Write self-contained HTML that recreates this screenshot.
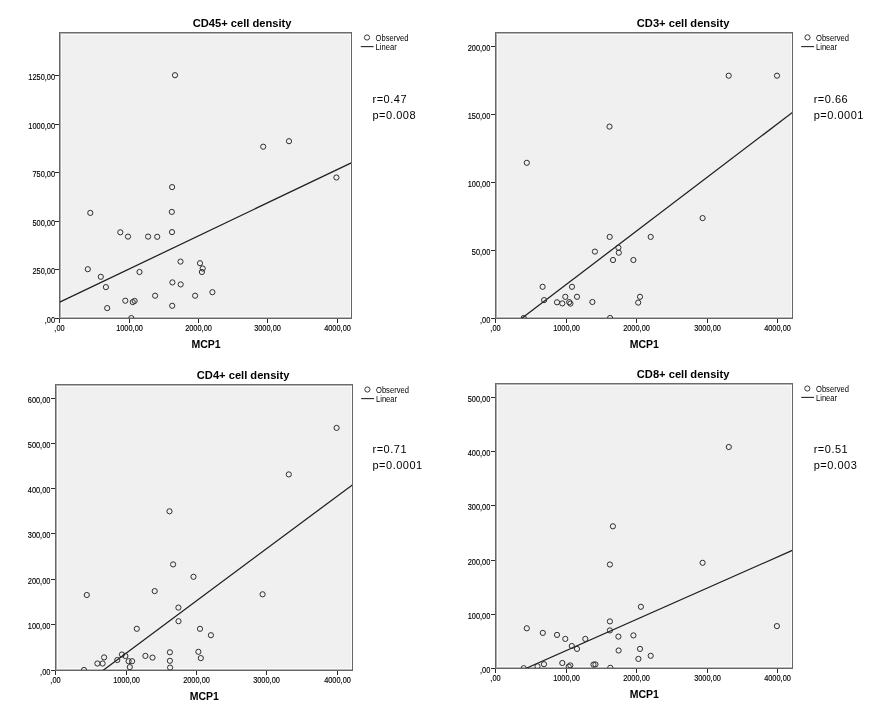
<!DOCTYPE html><html><head><meta charset="utf-8"><title>Scatter plots</title><style>html,body{margin:0;padding:0;background:#fff;width:884px;height:720px;overflow:hidden}svg{display:block;will-change:transform}text{font-family:"Liberation Sans",sans-serif;fill:#000}.tk{font-size:8.4px;stroke:#000;stroke-width:0.15px}.lg{font-size:8.2px}.ti{font-size:11.15px;font-weight:bold}.ax{font-size:10.5px;font-weight:bold}.rp{font-size:11px;letter-spacing:0.5px}</style></head><body>
<svg width="884" height="720" viewBox="0 0 884 720">
<rect x="0" y="0" width="884" height="720" fill="#fff"/>
<defs><clipPath id="cp0"><rect x="60" y="33" width="291" height="285"/></clipPath><clipPath id="cp1"><rect x="496" y="33" width="296" height="285"/></clipPath><clipPath id="cp2"><rect x="56" y="385" width="296" height="285"/></clipPath><clipPath id="cp3"><rect x="496" y="384" width="296" height="284"/></clipPath></defs>
<rect x="59" y="32" width="293" height="287" fill="#f0f0f0"/><rect x="61" y="34" width="289" height="1" fill="#fbfbfb"/><rect x="61" y="316" width="289" height="1" fill="#fbfbfb"/><rect x="61" y="34" width="1" height="283" fill="#fbfbfb"/><rect x="350" y="34" width="1" height="283" fill="#fbfbfb"/><rect x="60" y="33" width="291" height="1" fill="#b4b4b4"/><rect x="60" y="317" width="291" height="1" fill="#b4b4b4"/><rect x="60" y="33" width="1" height="285" fill="#ababab"/>
<g clip-path="url(#cp0)"><line x1="59.5" y1="302.3" x2="351.5" y2="162.7" stroke="#1e1e1e" stroke-width="1.25"/><circle cx="175" cy="75.2" r="2.6" fill="none" stroke="#2e2e2e" stroke-width="1"/><circle cx="263.2" cy="146.7" r="2.6" fill="none" stroke="#2e2e2e" stroke-width="1"/><circle cx="289" cy="141.2" r="2.6" fill="none" stroke="#2e2e2e" stroke-width="1"/><circle cx="336.4" cy="177.5" r="2.6" fill="none" stroke="#2e2e2e" stroke-width="1"/><circle cx="172.1" cy="187.1" r="2.6" fill="none" stroke="#2e2e2e" stroke-width="1"/><circle cx="90.3" cy="212.9" r="2.6" fill="none" stroke="#2e2e2e" stroke-width="1"/><circle cx="171.8" cy="211.9" r="2.6" fill="none" stroke="#2e2e2e" stroke-width="1"/><circle cx="120.3" cy="232.3" r="2.6" fill="none" stroke="#2e2e2e" stroke-width="1"/><circle cx="128" cy="236.6" r="2.6" fill="none" stroke="#2e2e2e" stroke-width="1"/><circle cx="148.1" cy="236.6" r="2.6" fill="none" stroke="#2e2e2e" stroke-width="1"/><circle cx="157.2" cy="236.8" r="2.6" fill="none" stroke="#2e2e2e" stroke-width="1"/><circle cx="172" cy="232.1" r="2.6" fill="none" stroke="#2e2e2e" stroke-width="1"/><circle cx="180.5" cy="261.6" r="2.6" fill="none" stroke="#2e2e2e" stroke-width="1"/><circle cx="200" cy="263.2" r="2.6" fill="none" stroke="#2e2e2e" stroke-width="1"/><circle cx="202.7" cy="268.5" r="2.6" fill="none" stroke="#2e2e2e" stroke-width="1"/><circle cx="201.9" cy="272" r="2.6" fill="none" stroke="#2e2e2e" stroke-width="1"/><circle cx="87.8" cy="269.2" r="2.6" fill="none" stroke="#2e2e2e" stroke-width="1"/><circle cx="139.5" cy="272" r="2.6" fill="none" stroke="#2e2e2e" stroke-width="1"/><circle cx="100.8" cy="276.8" r="2.6" fill="none" stroke="#2e2e2e" stroke-width="1"/><circle cx="105.9" cy="287.1" r="2.6" fill="none" stroke="#2e2e2e" stroke-width="1"/><circle cx="172.4" cy="282.4" r="2.6" fill="none" stroke="#2e2e2e" stroke-width="1"/><circle cx="180.7" cy="284.4" r="2.6" fill="none" stroke="#2e2e2e" stroke-width="1"/><circle cx="155.1" cy="295.7" r="2.6" fill="none" stroke="#2e2e2e" stroke-width="1"/><circle cx="195.1" cy="295.7" r="2.6" fill="none" stroke="#2e2e2e" stroke-width="1"/><circle cx="212.4" cy="292.2" r="2.6" fill="none" stroke="#2e2e2e" stroke-width="1"/><circle cx="125.3" cy="300.7" r="2.6" fill="none" stroke="#2e2e2e" stroke-width="1"/><circle cx="132.7" cy="302.1" r="2.6" fill="none" stroke="#2e2e2e" stroke-width="1"/><circle cx="134.6" cy="300.9" r="2.6" fill="none" stroke="#2e2e2e" stroke-width="1"/><circle cx="172.2" cy="305.8" r="2.6" fill="none" stroke="#2e2e2e" stroke-width="1"/><circle cx="107.2" cy="308.1" r="2.6" fill="none" stroke="#2e2e2e" stroke-width="1"/><circle cx="131.3" cy="318.1" r="2.6" fill="none" stroke="#2e2e2e" stroke-width="1"/></g>
<rect x="59" y="32" width="293" height="1" fill="#6c6c6c"/><rect x="59" y="318" width="293" height="1" fill="#666"/><rect x="59" y="32" width="1" height="287" fill="#666"/><rect x="351" y="32" width="1" height="287" fill="#666"/><rect x="59" y="319" width="1" height="4" fill="#2a2a2a"/><rect x="129" y="319" width="1" height="4" fill="#2a2a2a"/><rect x="198" y="319" width="1" height="4" fill="#2a2a2a"/><rect x="267" y="319" width="1" height="4" fill="#2a2a2a"/><rect x="337" y="319" width="1" height="4" fill="#2a2a2a"/><rect x="55" y="318" width="4" height="1" fill="#2a2a2a"/><rect x="55" y="269" width="4" height="1" fill="#2a2a2a"/><rect x="55" y="221" width="4" height="1" fill="#2a2a2a"/><rect x="55" y="172" width="4" height="1" fill="#2a2a2a"/><rect x="55" y="124" width="4" height="1" fill="#2a2a2a"/><rect x="55" y="75" width="4" height="1" fill="#2a2a2a"/>
<text class="tk" transform="translate(59.5 331) scale(0.881 1)" text-anchor="middle">,00</text><text class="tk" transform="translate(129.5 331) scale(0.881 1)" text-anchor="middle">1000,00</text><text class="tk" transform="translate(198.5 331) scale(0.881 1)" text-anchor="middle">2000,00</text><text class="tk" transform="translate(267.5 331) scale(0.881 1)" text-anchor="middle">3000,00</text><text class="tk" transform="translate(337.5 331) scale(0.881 1)" text-anchor="middle">4000,00</text><text class="tk" transform="translate(55.1 323) scale(0.881 1)" text-anchor="end">,00</text><text class="tk" transform="translate(55.1 274) scale(0.881 1)" text-anchor="end">250,00</text><text class="tk" transform="translate(55.1 226) scale(0.881 1)" text-anchor="end">500,00</text><text class="tk" transform="translate(55.1 177) scale(0.881 1)" text-anchor="end">750,00</text><text class="tk" transform="translate(55.1 129) scale(0.881 1)" text-anchor="end">1000,00</text><text class="tk" transform="translate(55.1 80) scale(0.881 1)" text-anchor="end">1250,00</text><text class="ti" x="242.1" y="27.4" text-anchor="middle">CD45+ cell density</text><text class="ax" x="206.0" y="347.6" text-anchor="middle">MCP1</text><circle cx="367.0" cy="37.5" r="2.6" fill="none" stroke="#3a3a3a" stroke-width="1"/><text class="lg" transform="translate(375.6 41) scale(0.927 1)">Observed</text><line x1="360.8" y1="46.6" x2="373.6" y2="46.6" stroke="#262626" stroke-width="1.1"/><text class="lg" transform="translate(375.6 50) scale(0.927 1)">Linear</text><text class="rp" x="372.5" y="102.8">r=0.47</text><text class="rp" x="372.5" y="119.0">p=0.008</text>
<rect x="495" y="32" width="298" height="287" fill="#f0f0f0"/><rect x="497" y="34" width="294" height="1" fill="#fbfbfb"/><rect x="497" y="316" width="294" height="1" fill="#fbfbfb"/><rect x="497" y="34" width="1" height="283" fill="#fbfbfb"/><rect x="791" y="34" width="1" height="283" fill="#fbfbfb"/><rect x="496" y="33" width="296" height="1" fill="#b4b4b4"/><rect x="496" y="317" width="296" height="1" fill="#b4b4b4"/><rect x="496" y="33" width="1" height="285" fill="#ababab"/>
<g clip-path="url(#cp1)"><line x1="521.5" y1="318.5" x2="792.5" y2="112.4" stroke="#1e1e1e" stroke-width="1.25"/><circle cx="728.7" cy="75.7" r="2.6" fill="none" stroke="#2e2e2e" stroke-width="1"/><circle cx="777" cy="75.7" r="2.6" fill="none" stroke="#2e2e2e" stroke-width="1"/><circle cx="609.5" cy="126.6" r="2.6" fill="none" stroke="#2e2e2e" stroke-width="1"/><circle cx="526.8" cy="162.8" r="2.6" fill="none" stroke="#2e2e2e" stroke-width="1"/><circle cx="702.6" cy="218.1" r="2.6" fill="none" stroke="#2e2e2e" stroke-width="1"/><circle cx="609.7" cy="236.9" r="2.6" fill="none" stroke="#2e2e2e" stroke-width="1"/><circle cx="650.7" cy="236.9" r="2.6" fill="none" stroke="#2e2e2e" stroke-width="1"/><circle cx="618.4" cy="247.7" r="2.6" fill="none" stroke="#2e2e2e" stroke-width="1"/><circle cx="618.8" cy="252.7" r="2.6" fill="none" stroke="#2e2e2e" stroke-width="1"/><circle cx="594.9" cy="251.6" r="2.6" fill="none" stroke="#2e2e2e" stroke-width="1"/><circle cx="613" cy="260" r="2.6" fill="none" stroke="#2e2e2e" stroke-width="1"/><circle cx="633.4" cy="260" r="2.6" fill="none" stroke="#2e2e2e" stroke-width="1"/><circle cx="542.6" cy="286.8" r="2.6" fill="none" stroke="#2e2e2e" stroke-width="1"/><circle cx="572" cy="286.8" r="2.6" fill="none" stroke="#2e2e2e" stroke-width="1"/><circle cx="544.1" cy="300.1" r="2.6" fill="none" stroke="#2e2e2e" stroke-width="1"/><circle cx="565.3" cy="296.8" r="2.6" fill="none" stroke="#2e2e2e" stroke-width="1"/><circle cx="577" cy="296.8" r="2.6" fill="none" stroke="#2e2e2e" stroke-width="1"/><circle cx="557" cy="302.3" r="2.6" fill="none" stroke="#2e2e2e" stroke-width="1"/><circle cx="562.3" cy="303.4" r="2.6" fill="none" stroke="#2e2e2e" stroke-width="1"/><circle cx="569.2" cy="302.1" r="2.6" fill="none" stroke="#2e2e2e" stroke-width="1"/><circle cx="570.4" cy="303.6" r="2.6" fill="none" stroke="#2e2e2e" stroke-width="1"/><circle cx="592.4" cy="302" r="2.6" fill="none" stroke="#2e2e2e" stroke-width="1"/><circle cx="640" cy="296.8" r="2.6" fill="none" stroke="#2e2e2e" stroke-width="1"/><circle cx="638.2" cy="302.6" r="2.6" fill="none" stroke="#2e2e2e" stroke-width="1"/><circle cx="523.7" cy="318" r="2.6" fill="none" stroke="#2e2e2e" stroke-width="1"/><circle cx="610.1" cy="318" r="2.6" fill="none" stroke="#2e2e2e" stroke-width="1"/></g>
<rect x="495" y="32" width="298" height="1" fill="#6c6c6c"/><rect x="495" y="318" width="298" height="1" fill="#666"/><rect x="495" y="32" width="1" height="287" fill="#666"/><rect x="792" y="32" width="1" height="287" fill="#666"/><rect x="495" y="319" width="1" height="4" fill="#2a2a2a"/><rect x="566" y="319" width="1" height="4" fill="#2a2a2a"/><rect x="636" y="319" width="1" height="4" fill="#2a2a2a"/><rect x="707" y="319" width="1" height="4" fill="#2a2a2a"/><rect x="777" y="319" width="1" height="4" fill="#2a2a2a"/><rect x="491" y="318" width="4" height="1" fill="#2a2a2a"/><rect x="491" y="250" width="4" height="1" fill="#2a2a2a"/><rect x="491" y="182" width="4" height="1" fill="#2a2a2a"/><rect x="491" y="114" width="4" height="1" fill="#2a2a2a"/><rect x="491" y="46" width="4" height="1" fill="#2a2a2a"/>
<text class="tk" transform="translate(495.5 331) scale(0.881 1)" text-anchor="middle">,00</text><text class="tk" transform="translate(566.5 331) scale(0.881 1)" text-anchor="middle">1000,00</text><text class="tk" transform="translate(636.5 331) scale(0.881 1)" text-anchor="middle">2000,00</text><text class="tk" transform="translate(707.5 331) scale(0.881 1)" text-anchor="middle">3000,00</text><text class="tk" transform="translate(777.5 331) scale(0.881 1)" text-anchor="middle">4000,00</text><text class="tk" transform="translate(490.3 323) scale(0.881 1)" text-anchor="end">,00</text><text class="tk" transform="translate(490.3 255) scale(0.881 1)" text-anchor="end">50,00</text><text class="tk" transform="translate(490.3 187) scale(0.881 1)" text-anchor="end">100,00</text><text class="tk" transform="translate(490.3 119) scale(0.881 1)" text-anchor="end">150,00</text><text class="tk" transform="translate(490.3 51) scale(0.881 1)" text-anchor="end">200,00</text><text class="ti" x="683.1" y="27.4" text-anchor="middle">CD3+ cell density</text><text class="ax" x="644.3" y="347.7" text-anchor="middle">MCP1</text><circle cx="807.5" cy="37.4" r="2.6" fill="none" stroke="#3a3a3a" stroke-width="1"/><text class="lg" transform="translate(816.0 41) scale(0.927 1)">Observed</text><line x1="801.2" y1="46.6" x2="814.0" y2="46.6" stroke="#262626" stroke-width="1.1"/><text class="lg" transform="translate(816.0 50) scale(0.927 1)">Linear</text><text class="rp" x="813.7" y="102.6">r=0.66</text><text class="rp" x="813.7" y="119.0">p=0.0001</text>
<rect x="55" y="384" width="298" height="287" fill="#f0f0f0"/><rect x="57" y="386" width="294" height="1" fill="#fbfbfb"/><rect x="57" y="668" width="294" height="1" fill="#fbfbfb"/><rect x="57" y="386" width="1" height="283" fill="#fbfbfb"/><rect x="351" y="386" width="1" height="283" fill="#fbfbfb"/><rect x="56" y="385" width="296" height="1" fill="#b4b4b4"/><rect x="56" y="669" width="296" height="1" fill="#b4b4b4"/><rect x="56" y="385" width="1" height="285" fill="#ababab"/>
<g clip-path="url(#cp2)"><line x1="102.9" y1="670.5" x2="352.5" y2="484.8" stroke="#1e1e1e" stroke-width="1.25"/><circle cx="336.6" cy="427.9" r="2.6" fill="none" stroke="#2e2e2e" stroke-width="1"/><circle cx="288.8" cy="474.4" r="2.6" fill="none" stroke="#2e2e2e" stroke-width="1"/><circle cx="169.5" cy="511.3" r="2.6" fill="none" stroke="#2e2e2e" stroke-width="1"/><circle cx="173.1" cy="564.4" r="2.6" fill="none" stroke="#2e2e2e" stroke-width="1"/><circle cx="193.5" cy="576.8" r="2.6" fill="none" stroke="#2e2e2e" stroke-width="1"/><circle cx="154.7" cy="591.1" r="2.6" fill="none" stroke="#2e2e2e" stroke-width="1"/><circle cx="86.8" cy="595" r="2.6" fill="none" stroke="#2e2e2e" stroke-width="1"/><circle cx="262.6" cy="594.3" r="2.6" fill="none" stroke="#2e2e2e" stroke-width="1"/><circle cx="178.4" cy="607.6" r="2.6" fill="none" stroke="#2e2e2e" stroke-width="1"/><circle cx="178.5" cy="621.2" r="2.6" fill="none" stroke="#2e2e2e" stroke-width="1"/><circle cx="136.8" cy="628.8" r="2.6" fill="none" stroke="#2e2e2e" stroke-width="1"/><circle cx="200" cy="628.8" r="2.6" fill="none" stroke="#2e2e2e" stroke-width="1"/><circle cx="210.9" cy="635.2" r="2.6" fill="none" stroke="#2e2e2e" stroke-width="1"/><circle cx="145.4" cy="655.9" r="2.6" fill="none" stroke="#2e2e2e" stroke-width="1"/><circle cx="152.5" cy="657.6" r="2.6" fill="none" stroke="#2e2e2e" stroke-width="1"/><circle cx="169.9" cy="652.3" r="2.6" fill="none" stroke="#2e2e2e" stroke-width="1"/><circle cx="169.9" cy="660.8" r="2.6" fill="none" stroke="#2e2e2e" stroke-width="1"/><circle cx="170.1" cy="667.6" r="2.6" fill="none" stroke="#2e2e2e" stroke-width="1"/><circle cx="198.4" cy="651.8" r="2.6" fill="none" stroke="#2e2e2e" stroke-width="1"/><circle cx="200.8" cy="658.1" r="2.6" fill="none" stroke="#2e2e2e" stroke-width="1"/><circle cx="121.9" cy="654.5" r="2.6" fill="none" stroke="#2e2e2e" stroke-width="1"/><circle cx="125.4" cy="656" r="2.6" fill="none" stroke="#2e2e2e" stroke-width="1"/><circle cx="128.6" cy="661.2" r="2.6" fill="none" stroke="#2e2e2e" stroke-width="1"/><circle cx="132.1" cy="661.2" r="2.6" fill="none" stroke="#2e2e2e" stroke-width="1"/><circle cx="129.8" cy="667.1" r="2.6" fill="none" stroke="#2e2e2e" stroke-width="1"/><circle cx="97.4" cy="663.5" r="2.6" fill="none" stroke="#2e2e2e" stroke-width="1"/><circle cx="102.6" cy="663.5" r="2.6" fill="none" stroke="#2e2e2e" stroke-width="1"/><circle cx="104.1" cy="657.4" r="2.6" fill="none" stroke="#2e2e2e" stroke-width="1"/><circle cx="117.3" cy="660" r="2.6" fill="none" stroke="#2e2e2e" stroke-width="1"/><circle cx="84" cy="670" r="2.6" fill="none" stroke="#2e2e2e" stroke-width="1"/></g>
<rect x="55" y="384" width="298" height="1" fill="#6c6c6c"/><rect x="55" y="670" width="298" height="1" fill="#666"/><rect x="55" y="384" width="1" height="287" fill="#666"/><rect x="352" y="384" width="1" height="287" fill="#666"/><rect x="55" y="671" width="1" height="4" fill="#2a2a2a"/><rect x="126" y="671" width="1" height="4" fill="#2a2a2a"/><rect x="196" y="671" width="1" height="4" fill="#2a2a2a"/><rect x="266" y="671" width="1" height="4" fill="#2a2a2a"/><rect x="337" y="671" width="1" height="4" fill="#2a2a2a"/><rect x="51" y="670" width="4" height="1" fill="#2a2a2a"/><rect x="51" y="624" width="4" height="1" fill="#2a2a2a"/><rect x="51" y="579" width="4" height="1" fill="#2a2a2a"/><rect x="51" y="533" width="4" height="1" fill="#2a2a2a"/><rect x="51" y="488" width="4" height="1" fill="#2a2a2a"/><rect x="51" y="443" width="4" height="1" fill="#2a2a2a"/><rect x="51" y="398" width="4" height="1" fill="#2a2a2a"/>
<text class="tk" transform="translate(55.5 683) scale(0.881 1)" text-anchor="middle">,00</text><text class="tk" transform="translate(126.5 683) scale(0.881 1)" text-anchor="middle">1000,00</text><text class="tk" transform="translate(196.5 683) scale(0.881 1)" text-anchor="middle">2000,00</text><text class="tk" transform="translate(266.5 683) scale(0.881 1)" text-anchor="middle">3000,00</text><text class="tk" transform="translate(337.5 683) scale(0.881 1)" text-anchor="middle">4000,00</text><text class="tk" transform="translate(50.4 675) scale(0.881 1)" text-anchor="end">,00</text><text class="tk" transform="translate(50.4 629) scale(0.881 1)" text-anchor="end">100,00</text><text class="tk" transform="translate(50.4 584) scale(0.881 1)" text-anchor="end">200,00</text><text class="tk" transform="translate(50.4 538) scale(0.881 1)" text-anchor="end">300,00</text><text class="tk" transform="translate(50.4 493) scale(0.881 1)" text-anchor="end">400,00</text><text class="tk" transform="translate(50.4 448) scale(0.881 1)" text-anchor="end">500,00</text><text class="tk" transform="translate(50.4 403) scale(0.881 1)" text-anchor="end">600,00</text><text class="ti" x="243.1" y="379.4" text-anchor="middle">CD4+ cell density</text><text class="ax" x="204.3" y="700.0" text-anchor="middle">MCP1</text><circle cx="367.4" cy="389.5" r="2.6" fill="none" stroke="#3a3a3a" stroke-width="1"/><text class="lg" transform="translate(376.0 393) scale(0.927 1)">Observed</text><line x1="361.2" y1="398.6" x2="374.0" y2="398.6" stroke="#262626" stroke-width="1.1"/><text class="lg" transform="translate(376.0 402) scale(0.927 1)">Linear</text><text class="rp" x="372.5" y="452.8">r=0.71</text><text class="rp" x="372.5" y="469.0">p=0.0001</text>
<rect x="495" y="383" width="298" height="286" fill="#f0f0f0"/><rect x="497" y="385" width="294" height="1" fill="#fbfbfb"/><rect x="497" y="666" width="294" height="1" fill="#fbfbfb"/><rect x="497" y="385" width="1" height="282" fill="#fbfbfb"/><rect x="791" y="385" width="1" height="282" fill="#fbfbfb"/><rect x="496" y="384" width="296" height="1" fill="#b4b4b4"/><rect x="496" y="667" width="296" height="1" fill="#b4b4b4"/><rect x="496" y="384" width="1" height="284" fill="#ababab"/>
<g clip-path="url(#cp3)"><line x1="525.7" y1="668.5" x2="792.5" y2="550.3" stroke="#1e1e1e" stroke-width="1.25"/><circle cx="728.8" cy="447" r="2.6" fill="none" stroke="#2e2e2e" stroke-width="1"/><circle cx="612.9" cy="526.3" r="2.6" fill="none" stroke="#2e2e2e" stroke-width="1"/><circle cx="609.9" cy="564.5" r="2.6" fill="none" stroke="#2e2e2e" stroke-width="1"/><circle cx="702.6" cy="562.8" r="2.6" fill="none" stroke="#2e2e2e" stroke-width="1"/><circle cx="776.9" cy="626.1" r="2.6" fill="none" stroke="#2e2e2e" stroke-width="1"/><circle cx="640.9" cy="606.8" r="2.6" fill="none" stroke="#2e2e2e" stroke-width="1"/><circle cx="609.9" cy="621.4" r="2.6" fill="none" stroke="#2e2e2e" stroke-width="1"/><circle cx="609.9" cy="630.4" r="2.6" fill="none" stroke="#2e2e2e" stroke-width="1"/><circle cx="526.8" cy="628.3" r="2.6" fill="none" stroke="#2e2e2e" stroke-width="1"/><circle cx="542.8" cy="632.9" r="2.6" fill="none" stroke="#2e2e2e" stroke-width="1"/><circle cx="557" cy="634.9" r="2.6" fill="none" stroke="#2e2e2e" stroke-width="1"/><circle cx="565.3" cy="638.9" r="2.6" fill="none" stroke="#2e2e2e" stroke-width="1"/><circle cx="585.3" cy="638.9" r="2.6" fill="none" stroke="#2e2e2e" stroke-width="1"/><circle cx="618.4" cy="636.6" r="2.6" fill="none" stroke="#2e2e2e" stroke-width="1"/><circle cx="633.4" cy="635.4" r="2.6" fill="none" stroke="#2e2e2e" stroke-width="1"/><circle cx="571.8" cy="646" r="2.6" fill="none" stroke="#2e2e2e" stroke-width="1"/><circle cx="577" cy="648.9" r="2.6" fill="none" stroke="#2e2e2e" stroke-width="1"/><circle cx="618.6" cy="650.5" r="2.6" fill="none" stroke="#2e2e2e" stroke-width="1"/><circle cx="640" cy="648.9" r="2.6" fill="none" stroke="#2e2e2e" stroke-width="1"/><circle cx="650.7" cy="655.8" r="2.6" fill="none" stroke="#2e2e2e" stroke-width="1"/><circle cx="638.4" cy="658.9" r="2.6" fill="none" stroke="#2e2e2e" stroke-width="1"/><circle cx="537.5" cy="666.3" r="2.6" fill="none" stroke="#2e2e2e" stroke-width="1"/><circle cx="544" cy="664.2" r="2.6" fill="none" stroke="#2e2e2e" stroke-width="1"/><circle cx="562.3" cy="663" r="2.6" fill="none" stroke="#2e2e2e" stroke-width="1"/><circle cx="568.7" cy="666.6" r="2.6" fill="none" stroke="#2e2e2e" stroke-width="1"/><circle cx="570.3" cy="665.4" r="2.6" fill="none" stroke="#2e2e2e" stroke-width="1"/><circle cx="593.5" cy="664.6" r="2.6" fill="none" stroke="#2e2e2e" stroke-width="1"/><circle cx="595.4" cy="664.4" r="2.6" fill="none" stroke="#2e2e2e" stroke-width="1"/><circle cx="610.3" cy="667.8" r="2.6" fill="none" stroke="#2e2e2e" stroke-width="1"/><circle cx="523.7" cy="668.2" r="2.6" fill="none" stroke="#2e2e2e" stroke-width="1"/></g>
<rect x="495" y="383" width="298" height="1" fill="#6c6c6c"/><rect x="495" y="668" width="298" height="1" fill="#666"/><rect x="495" y="383" width="1" height="286" fill="#666"/><rect x="792" y="383" width="1" height="286" fill="#666"/><rect x="495" y="669" width="1" height="4" fill="#2a2a2a"/><rect x="566" y="669" width="1" height="4" fill="#2a2a2a"/><rect x="636" y="669" width="1" height="4" fill="#2a2a2a"/><rect x="707" y="669" width="1" height="4" fill="#2a2a2a"/><rect x="777" y="669" width="1" height="4" fill="#2a2a2a"/><rect x="491" y="668" width="4" height="1" fill="#2a2a2a"/><rect x="491" y="614" width="4" height="1" fill="#2a2a2a"/><rect x="491" y="560" width="4" height="1" fill="#2a2a2a"/><rect x="491" y="505" width="4" height="1" fill="#2a2a2a"/><rect x="491" y="451" width="4" height="1" fill="#2a2a2a"/><rect x="491" y="397" width="4" height="1" fill="#2a2a2a"/>
<text class="tk" transform="translate(495.5 681) scale(0.881 1)" text-anchor="middle">,00</text><text class="tk" transform="translate(566.5 681) scale(0.881 1)" text-anchor="middle">1000,00</text><text class="tk" transform="translate(636.5 681) scale(0.881 1)" text-anchor="middle">2000,00</text><text class="tk" transform="translate(707.5 681) scale(0.881 1)" text-anchor="middle">3000,00</text><text class="tk" transform="translate(777.5 681) scale(0.881 1)" text-anchor="middle">4000,00</text><text class="tk" transform="translate(490.3 673) scale(0.881 1)" text-anchor="end">,00</text><text class="tk" transform="translate(490.3 619) scale(0.881 1)" text-anchor="end">100,00</text><text class="tk" transform="translate(490.3 565) scale(0.881 1)" text-anchor="end">200,00</text><text class="tk" transform="translate(490.3 510) scale(0.881 1)" text-anchor="end">300,00</text><text class="tk" transform="translate(490.3 456) scale(0.881 1)" text-anchor="end">400,00</text><text class="tk" transform="translate(490.3 402) scale(0.881 1)" text-anchor="end">500,00</text><text class="ti" x="683.1" y="378.3" text-anchor="middle">CD8+ cell density</text><text class="ax" x="644.3" y="698.0" text-anchor="middle">MCP1</text><circle cx="807.3" cy="388.5" r="2.6" fill="none" stroke="#3a3a3a" stroke-width="1"/><text class="lg" transform="translate(816.0 392) scale(0.927 1)">Observed</text><line x1="801.2" y1="397.4" x2="814.0" y2="397.4" stroke="#262626" stroke-width="1.1"/><text class="lg" transform="translate(816.0 401) scale(0.927 1)">Linear</text><text class="rp" x="813.7" y="452.8">r=0.51</text><text class="rp" x="813.7" y="469.0">p=0.003</text>
</svg></body></html>
